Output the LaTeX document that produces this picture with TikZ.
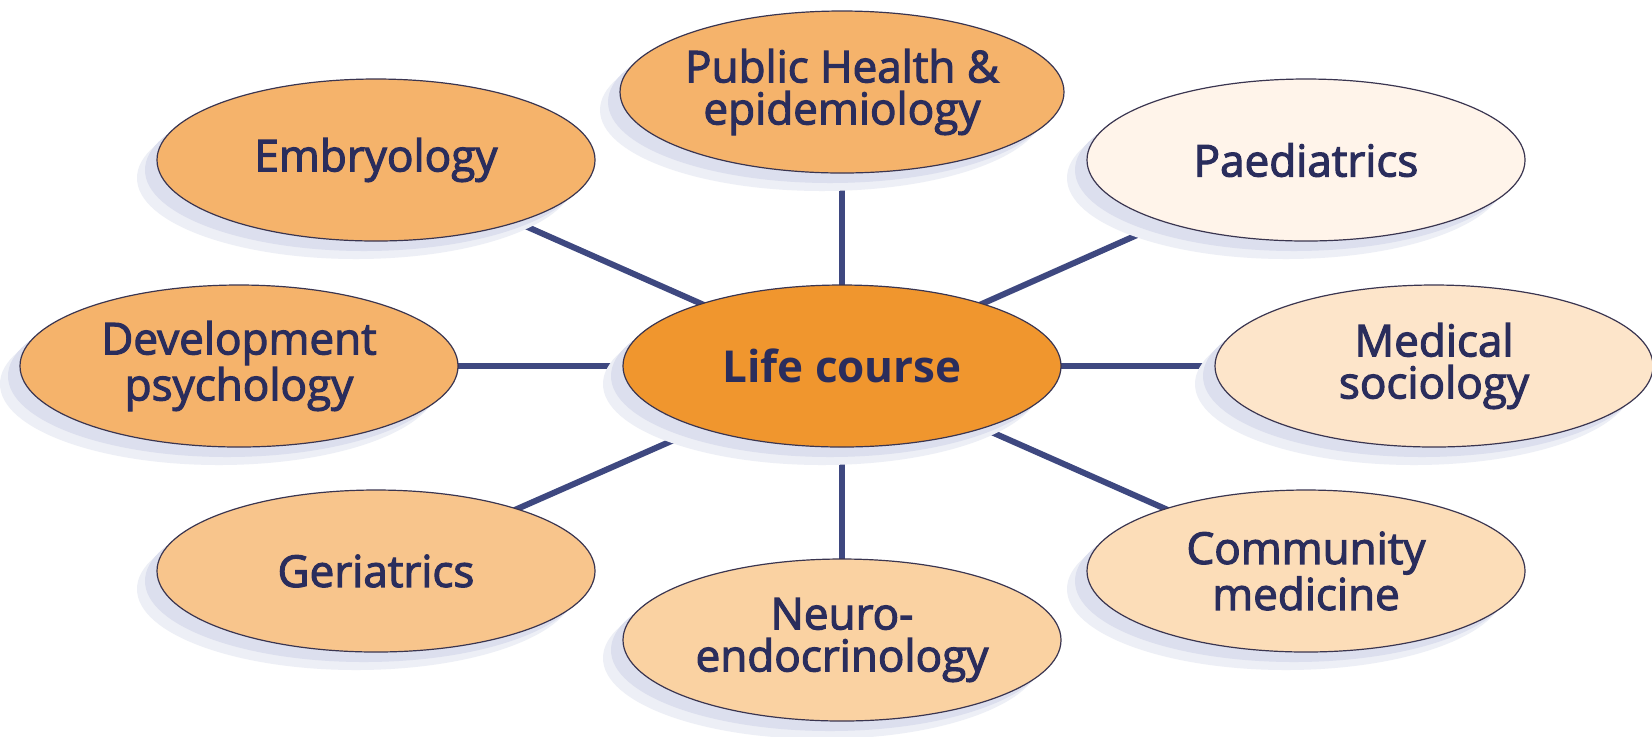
\documentclass[tikz,border=0pt]{standalone}
\usepackage{fontspec}
\setmainfont{Open Sans}
\newfontfamily\medfont{Open Sans}[FakeBold=2.5]
\newfontfamily\boldfont{Open Sans Bold}
\usetikzlibrary{shapes.geometric,shadows}
\pgfdeclarelayer{background}
\pgfsetlayers{background,main}
\definecolor{txtcol}{HTML}{2A2D5C}
\definecolor{linecol}{HTML}{3E4880}
\definecolor{edgecol}{HTML}{3A3550}
\definecolor{shcol}{HTML}{DCDFEE}
\definecolor{cCenter}{HTML}{F0962E}
\definecolor{cDark}{HTML}{F5B36B}
\definecolor{cGer}{HTML}{F8C58C}
\definecolor{cNeuro}{HTML}{FAD2A2}
\definecolor{cComm}{HTML}{FCDDB8}
\definecolor{cMed}{HTML}{FDE5CA}
\definecolor{cPaed}{HTML}{FFF4EA}
\tikzset{
  bubble/.style={ellipse, draw=edgecol, line width=0.6pt, inner sep=0pt,
    minimum width=219pt, minimum height=81pt, text=txtcol, align=center,
    font=\medfont\fontsize{22}{21}\selectfont,
    drop shadow={fill=shcol!50, shadow xshift=-10pt, shadow yshift=-9pt, opacity=1},
    drop shadow={fill=shcol, shadow xshift=-6pt, shadow yshift=-5pt, opacity=1}},
  centerbubble/.style={bubble, fill=cCenter, font=\boldfont\fontsize{22}{21}\selectfont},
  link/.style={draw=linecol, line width=3pt}
}
\begin{document}
\begin{tikzpicture}[x=0.5pt,y=-0.5pt]
\useasboundingbox (0,0) rectangle (1652,736);
\node[centerbubble] (lc) at (842,366) {Life course};
\node[bubble, fill=cDark] (ph) at (842,92) {Public Health \&\\epidemiology};
\node[bubble, fill=cDark] (emb) at (376,160) {Embryology};
\node[bubble, fill=cPaed] (paed) at (1306,160) {Paediatrics};
\node[bubble, fill=cDark] (dev) at (239,366) {Development\\psychology};
\node[bubble, fill=cMed] (med) at (1434,366) {Medical\\sociology};
\node[bubble, fill=cGer] (ger) at (376,571) {Geriatrics};
\node[bubble, fill=cNeuro] (neu) at (842,640) {Neuro-\\endocrinology};
\node[bubble, fill=cComm] (com) at (1306,571) {Community\\medicine};
\begin{pgfonlayer}{background}
\fill[white] (0,0) rectangle (1652,736);
\foreach \n in {ph,emb,paed,dev,med,ger,neu,com}
  \draw[link] (lc.center) -- (\n.center);
\end{pgfonlayer}
\end{tikzpicture}
\end{document}
